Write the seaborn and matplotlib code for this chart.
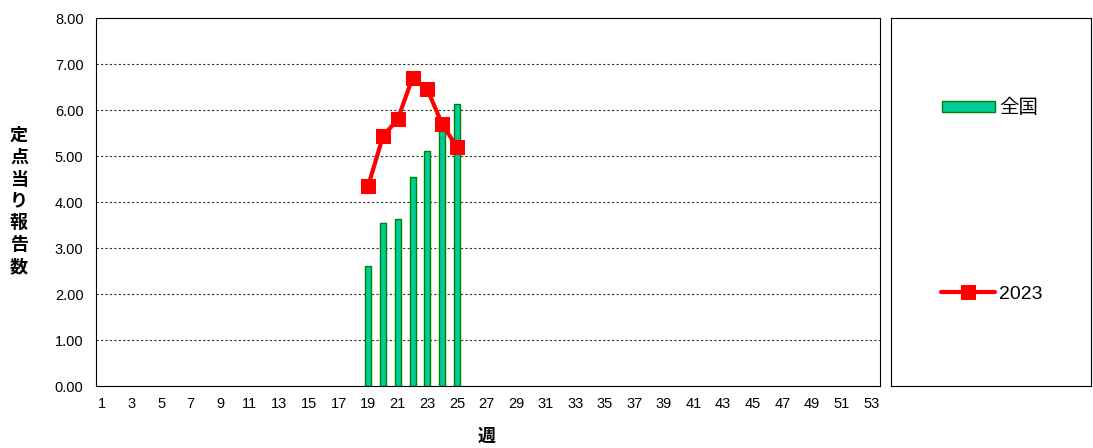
import numpy as np
import pandas as pd
import matplotlib
matplotlib.use('Agg')
import matplotlib.pyplot as plt
import seaborn as sns

# dane
weeks = [19, 20, 21, 22, 23, 24, 25]
zenkoku = [2.61, 3.54, 3.62, 4.55, 5.11, 5.60, 6.12]
y2023 = [4.35, 5.43, 5.80, 6.70, 6.45, 5.69, 5.20]
all_weeks = list(range(1, 54))

sns.set_style('white')
plt.rcParams['font.family'] = ['Liberation Sans', 'Noto Sans CJK JP', 'DejaVu Sans']
plt.rcParams['text.color'] = 'black'
plt.rcParams['xtick.color'] = 'black'
plt.rcParams['ytick.color'] = 'black'

df_bar = pd.DataFrame({'週': weeks, '全国': zenkoku})
df_line = pd.DataFrame({'週': weeks, '2023': y2023})

fig = plt.figure(figsize=(10.93, 4.48), dpi=100)
ax = fig.add_axes([96 / 1093, 62 / 448, 784 / 1093, 368 / 448])

sns.barplot(data=df_bar, x='週', y='全国', native_scale=True, width=0.4,
            color='#00CC99', edgecolor='#008000', linewidth=1, saturation=1,
            ax=ax, label='全国', legend=False)
sns.lineplot(data=df_line, x='週', y='2023', color='#FF0000', linewidth=3,
             marker='s', markersize=9.5, markeredgecolor='#FF0000',
             ax=ax, label='2023', legend=False)
if ax.get_legend() is not None:
    ax.get_legend().remove()

ax.set_xlim(0.6, 53.6)
ax.set_ylim(0, 8)
ax.set_xticks(all_weeks)
ax.set_xticklabels([str(w) if w % 2 == 1 else '' for w in all_weeks], fontsize=10.5)
ax.set_yticks(np.arange(0, 9, 1))
ax.set_yticklabels(['%.2f' % v for v in np.arange(0, 9, 1)], fontsize=10.5)
ax.tick_params(axis='x', direction='in', length=3, width=0.8, pad=8)
ax.tick_params(axis='y', direction='out', length=3, width=0.8, pad=6)
for v in range(1, 8):
    ax.axhline(v, color='#333333', linestyle=(0, (2, 2)), linewidth=0.8, zorder=0)
for s in ax.spines.values():
    s.set_color('black')
    s.set_linewidth(0.8)
ax.set_xlabel('')
ax.set_ylabel('')

fig.text(487 / 1093, 1 - 437 / 448, '週', fontsize=13, fontweight='bold',
         ha='center', va='center')
fig.text(19 / 1093, 1 - 202 / 448, '\n'.join('定点当り報告数'), fontsize=13,
         fontweight='bold', ha='center', va='center', linespacing=1.37)

# legenda w osobnej ramce
ax_leg = fig.add_axes([891 / 1093, 62 / 448, 200 / 1093, 368 / 448])
ax_leg.set_xticks([])
ax_leg.set_yticks([])
for s in ax_leg.spines.values():
    s.set_color('black')
    s.set_linewidth(0.8)
handles, labels = ax.get_legend_handles_labels()
h = dict(zip(labels, handles))
leg1 = ax_leg.legend([h['全国']], ['全国'], loc='center left',
                     bbox_to_anchor=(0.255, 0.755), frameon=False, fontsize=14,
                     borderpad=0, borderaxespad=0, handlelength=2.7,
                     handleheight=0.55, handletextpad=0.25)
ax_leg.add_artist(leg1)
ax_leg.legend([h['2023']], ['2023'], loc='center left',
              bbox_to_anchor=(0.25, 0.25), frameon=False, fontsize=14,
              borderpad=0, borderaxespad=0, handlelength=2.8,
              handletextpad=0.2)

plt.savefig('out.png', dpi=100)
